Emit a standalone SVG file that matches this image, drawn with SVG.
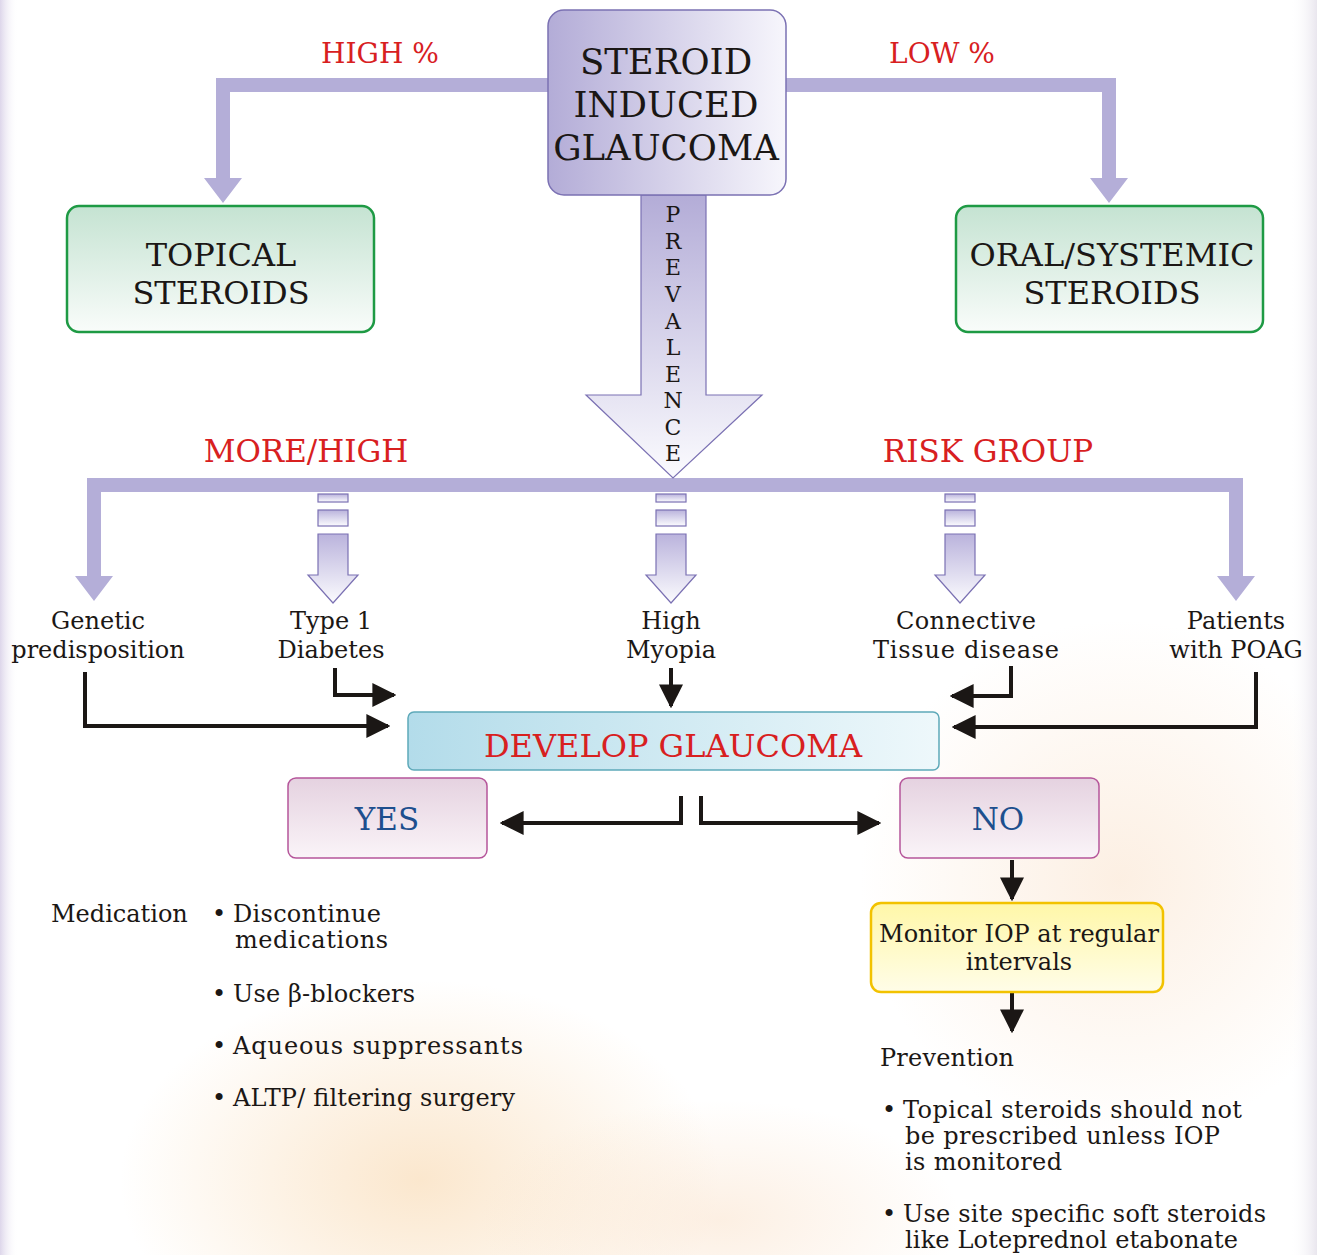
<svg xmlns="http://www.w3.org/2000/svg" width="1317" height="1255" viewBox="0 0 1317 1255">
<defs>
  <linearGradient id="gLeftEdge" x1="0" y1="0" x2="1" y2="0">
    <stop offset="0" stop-color="#ddd6ea"/>
    <stop offset="1" stop-color="#ffffff" stop-opacity="0"/>
  </linearGradient>
  <linearGradient id="gRightEdge" x1="0" y1="0" x2="1" y2="0">
    <stop offset="0" stop-color="#ffffff" stop-opacity="0"/>
    <stop offset="1" stop-color="#e9e6ee"/>
  </linearGradient>
  <radialGradient id="gPeach1" cx="0.5" cy="0.5" r="0.5">
    <stop offset="0" stop-color="#f7cf9c" stop-opacity="0.5"/>
    <stop offset="1" stop-color="#f7cf9c" stop-opacity="0"/>
  </radialGradient>
  <radialGradient id="gPeach2" cx="0.5" cy="0.5" r="0.5">
    <stop offset="0" stop-color="#f9dcc0" stop-opacity="0.45"/>
    <stop offset="1" stop-color="#f9dcc0" stop-opacity="0"/>
  </radialGradient>
  <linearGradient id="gMain" x1="0" y1="0" x2="1" y2="0">
    <stop offset="0" stop-color="#b3acd7"/>
    <stop offset="1" stop-color="#f7f6fc"/>
  </linearGradient>
  <linearGradient id="gPrev" x1="0" y1="0" x2="0" y2="1">
    <stop offset="0" stop-color="#b3acd7"/>
    <stop offset="1" stop-color="#fbfbfe"/>
  </linearGradient>
  <linearGradient id="gGreen" x1="0" y1="0" x2="0" y2="1">
    <stop offset="0" stop-color="#c5e3d2"/>
    <stop offset="1" stop-color="#f9fcfa"/>
  </linearGradient>
  <linearGradient id="gBlue" x1="0" y1="0" x2="1" y2="0">
    <stop offset="0" stop-color="#b3dcea"/>
    <stop offset="1" stop-color="#eef8fb"/>
  </linearGradient>
  <linearGradient id="gPink" x1="0" y1="0" x2="0" y2="1">
    <stop offset="0" stop-color="#e5d2e0"/>
    <stop offset="1" stop-color="#faf4f8"/>
  </linearGradient>
  <linearGradient id="gYellow" x1="0" y1="0" x2="0" y2="1">
    <stop offset="0" stop-color="#fff7a8"/>
    <stop offset="1" stop-color="#fffde8"/>
  </linearGradient>
  <linearGradient id="gDash" x1="0" y1="0" x2="0" y2="1">
    <stop offset="0" stop-color="#bab3dc"/>
    <stop offset="1" stop-color="#fbfbfe"/>
  </linearGradient>
  <marker id="ah" viewBox="0 0 10 10" refX="9" refY="5" markerWidth="6" markerHeight="6.5" markerUnits="strokeWidth" orient="auto">
    <path d="M0,0 L10,5 L0,10 Z" fill="#1b1715"/>
  </marker>
</defs>
<style>
  text { font-family: "DejaVu Serif", "Liberation Serif", serif; fill: #1b1715; }
  .head { font-size: 35.5px; text-anchor: middle; }
  .box2 { font-size: 32px; text-anchor: middle; }
  .red { fill: #d8201f; }
  .blue { fill: #1d4f8e; }
  .lbl { font-size: 24px; text-anchor: middle; }
  .body { font-size: 24px; }
  .prev { font-size: 22px; text-anchor: middle; }
  .lav { fill: #b4aed8; }
  .blk { fill: none; stroke: #1b1715; stroke-width: 4; marker-end: url(#ah); }
  .dash { fill: url(#gDash); stroke: #7b71b3; stroke-width: 1.2; }
</style>

<!-- background -->
<rect x="0" y="0" width="1317" height="1255" fill="#ffffff"/>
<ellipse cx="1120" cy="880" rx="260" ry="260" fill="url(#gPeach2)"/>
<ellipse cx="420" cy="1180" rx="300" ry="200" fill="url(#gPeach1)"/>
<ellipse cx="720" cy="1220" rx="240" ry="120" fill="url(#gPeach2)"/>
<rect x="0" y="0" width="18" height="1255" fill="url(#gLeftEdge)"/>
<rect x="1290" y="0" width="27" height="1255" fill="url(#gRightEdge)"/>

<!-- connectors -->
<g id="connectors">
  <path class="lav" d="M548,78 L216,78 L216,178 L204,178 L223,203 L242,178 L230,178 L230,92 L548,92 Z"/>
  <path class="lav" d="M786,78 L1116,78 L1116,178 L1128,178 L1109,203 L1090,178 L1102,178 L1102,92 L786,92 Z"/>
  <path class="lav" d="M87,478 L1243,478 L1243,576 L1255,576 L1236,601 L1217,576 L1229,576 L1229,492 L101,492 L101,576 L113,576 L94,601 L75,576 L87,576 Z"/>
  <g>
    <rect class="dash" x="318" y="494" width="30" height="8"/>
    <rect class="dash" x="318" y="510" width="30" height="16"/>
    <path class="dash" d="M318,534 L348,534 L348,575 L358,575 L333,603 L308,575 L318,575 Z"/>
  </g>
  <g>
    <rect class="dash" x="656" y="494" width="30" height="8"/>
    <rect class="dash" x="656" y="510" width="30" height="16"/>
    <path class="dash" d="M656,534 L686,534 L686,575 L696,575 L671,603 L646,575 L656,575 Z"/>
  </g>
  <g>
    <rect class="dash" x="945" y="494" width="30" height="8"/>
    <rect class="dash" x="945" y="510" width="30" height="16"/>
    <path class="dash" d="M945,534 L975,534 L975,575 L985,575 L960,603 L935,575 L945,575 Z"/>
  </g>
  <path class="blk" d="M85,672 L85,726 L388,726"/>
  <path class="blk" d="M335,668 L335,695 L394,695"/>
  <path class="blk" d="M671,668 L671,706"/>
  <path class="blk" d="M1011,666 L1011,696 L952,696"/>
  <path class="blk" d="M1256,672 L1256,727 L954,727"/>
  <path class="blk" d="M681,796 L681,823 L502,823"/>
  <path class="blk" d="M701,796 L701,823 L879,823"/>
  <path class="blk" d="M1012,860 L1012,899"/>
  <path class="blk" d="M1012,992 L1012,1031"/>
</g>

<text class="red" x="380" y="63" font-size="28" text-anchor="middle">HIGH %</text>
<text class="red" x="942" y="63" font-size="28" text-anchor="middle">LOW %</text>
<text class="red" x="306" y="462" font-size="31" text-anchor="middle">MORE/HIGH</text>
<text class="red" x="988" y="462" font-size="31" text-anchor="middle">RISK GROUP</text>

<g id="prevalence">
  <path d="M641,195 L706,195 L706,395 L762,395 L673,478 L586,395 L641,395 Z" fill="url(#gPrev)" stroke="#7b71b3" stroke-width="1.2"/>
  <text class="prev" x="673" y="222">P</text>
  <text class="prev" x="673" y="249">R</text>
  <text class="prev" x="673" y="275">E</text>
  <text class="prev" x="673" y="302">V</text>
  <text class="prev" x="673" y="329">A</text>
  <text class="prev" x="673" y="355">L</text>
  <text class="prev" x="673" y="382">E</text>
  <text class="prev" x="673" y="408">N</text>
  <text class="prev" x="673" y="435">C</text>
  <text class="prev" x="673" y="461">E</text>
</g>

<g id="steroid-glaucoma">
  <rect x="548" y="10" width="238" height="185" rx="16" fill="url(#gMain)" stroke="#7b71b3" stroke-width="1.5"/>
  <text class="head" x="666" y="74">STEROID</text>
  <text class="head" x="666" y="117">INDUCED</text>
  <text class="head" x="666" y="160">GLAUCOMA</text>
</g>

<g id="topical">
  <rect x="67" y="206" width="307" height="126" rx="12" fill="url(#gGreen)" stroke="#1e9a44" stroke-width="2.5"/>
  <text class="box2" x="221" y="266">TOPICAL</text>
  <text class="box2" x="221" y="304">STEROIDS</text>
</g>

<g id="oral">
  <rect x="956" y="206" width="307" height="126" rx="12" fill="url(#gGreen)" stroke="#1e9a44" stroke-width="2.5"/>
  <text class="box2" x="1112" y="266">ORAL/SYSTEMIC</text>
  <text class="box2" x="1112" y="304">STEROIDS</text>
</g>

<g id="genetic">
  <text class="lbl" x="98" y="629">Genetic</text>
  <text class="lbl" x="98" y="658">predisposition</text>
</g>
<g id="diabetes">
  <text class="lbl" x="331" y="629">Type 1</text>
  <text class="lbl" x="331" y="658">Diabetes</text>
</g>
<g id="myopia">
  <text class="lbl" x="671" y="629">High</text>
  <text class="lbl" x="671" y="658">Myopia</text>
</g>
<g id="connective">
  <text class="lbl" x="966" y="629" textLength="140" lengthAdjust="spacing">Connective</text>
  <text class="lbl" x="966" y="658" textLength="186" lengthAdjust="spacing">Tissue disease</text>
</g>
<g id="poag">
  <text class="lbl" x="1236" y="629">Patients</text>
  <text class="lbl" x="1236" y="658">with POAG</text>
</g>

<g id="develop">
  <rect x="408" y="712" width="531" height="58" rx="6" fill="url(#gBlue)" stroke="#5ea9b9" stroke-width="1.5"/>
  <text class="red" x="673" y="757" font-size="32" text-anchor="middle">DEVELOP GLAUCOMA</text>
</g>

<g id="yes">
  <rect x="288" y="778" width="199" height="80" rx="8" fill="url(#gPink)" stroke="#b5559a" stroke-width="1.5"/>
  <text class="blue" x="387" y="830" font-size="31" text-anchor="middle">YES</text>
</g>

<g id="no">
  <rect x="900" y="778" width="199" height="80" rx="8" fill="url(#gPink)" stroke="#b5559a" stroke-width="1.5"/>
  <text class="blue" x="998" y="830" font-size="31" text-anchor="middle">NO</text>
</g>

<g id="monitor">
  <rect x="871" y="903" width="292" height="89" rx="10" fill="url(#gYellow)" stroke="#f2c200" stroke-width="2.5"/>
  <text class="lbl" x="1019" y="942">Monitor IOP at regular</text>
  <text class="lbl" x="1019" y="970">intervals</text>
</g>

<g id="medication">
  <text class="body" x="51" y="922">Medication</text>
  <text class="body" x="212" y="922">•</text>
  <text class="body" x="233" y="922" textLength="148" lengthAdjust="spacing">Discontinue</text>
  <text class="body" x="235" y="948" textLength="153" lengthAdjust="spacing">medications</text>
  <text class="body" x="212" y="1002">•</text>
  <text class="body" x="233" y="1002" textLength="182" lengthAdjust="spacing">Use β-blockers</text>
  <text class="body" x="212" y="1054">•</text>
  <text class="body" x="233" y="1054" textLength="290" lengthAdjust="spacing">Aqueous suppressants</text>
  <text class="body" x="212" y="1106">•</text>
  <text class="body" x="233" y="1106" textLength="282" lengthAdjust="spacing">ALTP/ filtering surgery</text>
</g>

<g id="prevention">
  <text class="body" x="880" y="1066" textLength="134" lengthAdjust="spacing">Prevention</text>
  <text class="body" x="882" y="1118">•</text>
  <text class="body" x="903" y="1118" textLength="339" lengthAdjust="spacing">Topical steroids should not</text>
  <text class="body" x="905" y="1144" textLength="315" lengthAdjust="spacing">be prescribed unless IOP</text>
  <text class="body" x="905" y="1170" textLength="157" lengthAdjust="spacing">is monitored</text>
  <text class="body" x="882" y="1222">•</text>
  <text class="body" x="903" y="1222" textLength="363" lengthAdjust="spacing">Use site specific soft steroids</text>
  <text class="body" x="905" y="1248" textLength="333" lengthAdjust="spacing">like Loteprednol etabonate</text>
</g>
</svg>
